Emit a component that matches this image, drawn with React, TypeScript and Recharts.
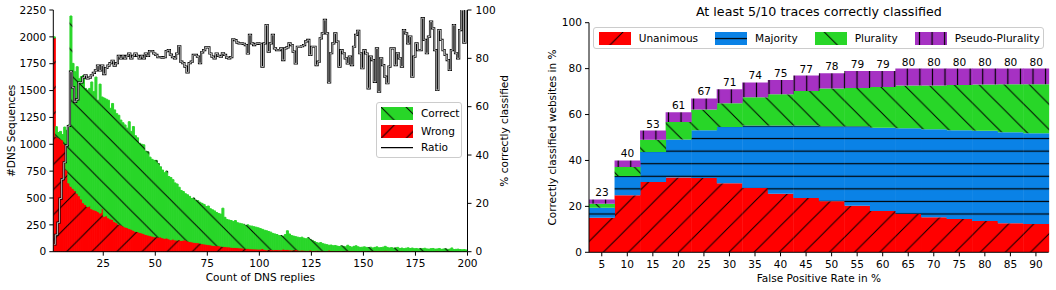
import React from "react";
import {
  ComposedChart,
  BarChart,
  Bar,
  Line,
  XAxis,
  YAxis,
  Legend,
  LabelList,
} from "recharts";

// ---- left panel: DNS reply histogram (bins 1..199) ----
const replyTotals = [
  2000, 1164, 1110, 1120, 1090, 1160, 1130, 1180, 2194, 1753,
  1675, 1722, 1610, 1630, 1640, 1520, 1505, 1520, 1580, 1490,
  1625, 1410, 1560, 1440, 1430, 1420, 1410, 1335, 1380, 1320,
  1285, 1270, 1225, 1200, 1180, 1150, 1210, 1120, 1165, 1080,
  1060, 1010, 1000, 995, 935, 930, 880, 860, 850, 850,
  820, 790, 760, 735, 750, 700, 690, 670, 640, 630,
  600, 570, 560, 540, 530, 515, 495, 500, 480, 475,
  460, 450, 440, 420, 425, 400, 390, 380, 365, 355,
  350, 405, 320, 300, 295, 290, 280, 290, 270, 265,
  260, 255, 245, 250, 240, 238, 232, 228, 222, 215,
  208, 200, 195, 188, 182, 170, 165, 160, 150, 150,
  145, 160, 195, 165, 150, 145, 140, 135, 130, 135,
  125, 120, 130, 115, 105, 95, 85, 80, 85, 75,
  70, 65, 60, 62, 55, 58, 52, 48, 55, 50,
  45, 60, 48, 42, 50, 55, 45, 40, 42, 45,
  40, 38, 42, 35, 40, 45, 36, 38, 42, 50,
  40, 35, 38, 32, 36, 40, 30, 34, 28, 32,
  36, 30, 34, 28, 30, 26, 30, 28, 32, 26,
  24, 28, 30, 24, 26, 30, 22, 25, 28, 22,
  24, 35, 20, 22, 24, 20, 18, 20, 16,
];

const replyWrong = [
  1990, 1075, 1060, 1050, 1040, 1000, 760, 640, 610, 590,
  570, 545, 520, 490, 455, 440, 420, 425, 400, 390,
  385, 375, 360, 400, 330, 335, 315, 305, 300, 280,
  270, 255, 250, 240, 230, 225, 215, 210, 200, 190,
  188, 180, 175, 168, 160, 155, 150, 145, 140, 140,
  135, 138, 130, 125, 128, 120, 112, 118, 110, 108,
  112, 105, 108, 110, 100, 95, 92, 88, 85, 84,
  80, 75, 72, 70, 66, 64, 60, 58, 55, 56,
  52, 50, 48, 46, 45, 42, 40, 40, 38, 36,
  35, 33, 30, 32, 28, 27, 26, 25, 24, 24,
  30, 22, 18, 22, 20, 18, 20, 20, 19, 18,
  25, 20, 22, 18, 16, 18, 22, 15, 14, 15,
  14, 12, 12, 16, 12, 11, 14, 13, 10, 8,
  5, 7, 16, 10, 8, 6, 7, 10, 8, 9,
  9, 12, 9, 10, 8, 6, 5, 7, 10, 8,
  7, 12, 8, 7, 11, 7, 12, 8, 9, 13,
  12, 8, 6, 5, 8, 7, 6, 8, 3, 3,
  5, 3, 9, 5, 4, 4, 5, 1, 4, 5,
  3, 1, 2, 4, 8, 2, 3, 4, 5, 5,
  6, 6, 1, 4, 5, 2, 0, 3, 0,
];

const ratioPct = [
  3, 7, 12, 22, 30, 37, 44, 52, 74.5, 68,
  62, 63, 70, 70, 72, 73, 71.7, 72, 73, 74,
  75, 77, 75, 77, 73.5, 76, 77, 78, 79, 77,
  78, 81, 80, 81, 80, 81, 82, 80, 81, 82,
  81, 80, 81, 80, 82, 81, 83, 83, 82, 81.4,
  80.5, 80.5, 80.3, 80.5, 83, 83.4, 81.5, 80.5, 80, 82,
  85, 78.6, 78, 76.6, 74.2, 78, 78.6, 81.4, 81.4, 80.7,
  78, 82.5, 83.4, 84.5, 84.5, 82, 80.7, 80, 82, 81,
  80.7, 82.1, 81.4, 80.3, 80, 80.5, 87.9, 87.5, 86.5, 86.2,
  86.2, 86, 85.5, 82, 89.7, 86.2, 85.5, 86, 86.2, 86,
  76.6, 86.2, 93.8, 82.8, 86.2, 89.7, 84.1, 83.4, 83.4, 84.1,
  79.3, 84.1, 84.5, 86.2, 85.5, 82.8, 77.9, 84.8, 84.8, 85,
  85.5, 87, 87.6, 81.4, 84.8, 84.8, 77.2, 78.6, 88.3, 90.3,
  95.9, 90.3, 70, 82.1, 86.2, 90.3, 86.9, 76.6, 83.4, 82.1,
  80, 77.9, 80.7, 77.2, 84.8, 89.7, 91.4, 82.1, 75.9, 83.4,
  82, 67.6, 80.7, 79.3, 70.3, 84.1, 66.2, 80, 77.2, 72.4,
  69.7, 76.6, 84.1, 84.1, 77.2, 82.1, 80, 76.6, 91.7, 90.3,
  86.2, 89, 72.4, 80.7, 86.2, 83.4, 83.4, 96.6, 87.6, 82.1,
  89, 95.2, 92.4, 83.4, 66.9, 91.7, 87.6, 83.4, 81.4, 79.3,
  75.2, 83.4, 93.8, 82.1, 80, 91.7, 100, 86.5, 100,
];

const countTicks = [0, 250, 500, 750, 1000, 1250, 1500, 1750, 2000, 2250];
const pctTicks = [0, 20, 40, 60, 80, 100];
const replyTicks = [25, 50, 75, 100, 125, 150, 175, 200];

// ---- right panel: classification at each false positive rate ----
const fprSteps = [5, 10, 15, 20, 25, 30, 35, 40, 45, 50, 55, 60, 65, 70, 75, 80, 85, 90];
const unanimous = [15, 24.9, 30.6, 32.6, 32.4, 30.1, 28, 25.5, 23.7, 22.2, 20.3, 18, 16.7, 15.3, 14.5, 13.6, 12.7, 12.3];
const majority = [4.4, 8.3, 13.1, 16.5, 20.8, 24.5, 27.2, 29.7, 31.5, 32.7, 34.6, 36.3, 37.3, 38.3, 38.7, 39.3, 39.6, 39.5];
const plurality = [1.7, 4, 5.3, 7.7, 9, 10.3, 12.3, 13.6, 15.1, 16.4, 16.7, 17.7, 18.6, 19, 19.7, 20.2, 20.9, 21.4];
const pseudoPlurality = [1.9, 2.8, 4, 4.2, 4.8, 6.1, 6.5, 6.2, 6.7, 6.7, 7.4, 7, 7.4, 7.4, 7.1, 6.9, 6.8, 6.8];
const websiteTicks = [0, 20, 40, 60, 80, 100];

const GREEN = "#28d628";
const RED = "#ff0000";
const BLUE = "#0a82e6";
const PURPLE = "#a631c3";
const FONT = "'DejaVu Sans', sans-serif";
const TXT = 10.55;
const DIAG = 25.13; // spacing of the diagonal hatches
const FINE = 12.57; // spacing of the straight hatches

const histRows = replyTotals.map((total, i) => ({
  bin: i + 1.5,
  wrong: replyWrong[i],
  correct: total - replyWrong[i],
  ratio: ratioPct[i],
}));

const fprRows = fprSteps.map((fpr, i) => {
  const sum = unanimous[i] + majority[i] + plurality[i] + pseudoPlurality[i];
  return {
    fpr,
    unanimous: unanimous[i],
    majority: majority[i],
    plurality: plurality[i],
    pseudo: pseudoPlurality[i],
    total: Math.round(sum),
  };
});

// fwd = "/", back = "\", horiz = "-", vert = "|"
type Kind = "fwd" | "back" | "horiz" | "vert";

const Hatch = ({ id, color, kind, phase }: { id: string; color: string; kind: Kind; phase: number }) => {
  const D = DIAG;
  if (kind === "fwd" || kind === "back") {
    const d =
      kind === "fwd"
        ? `M0,${D} L${D},0 M-1,1 L1,-1 M${D - 1},${D + 1} L${D + 1},${D - 1}`
        : `M0,0 L${D},${D} M-1,${D - 1} L1,${D + 1} M${D - 1},-1 L${D + 1},1`;
    return (
      <pattern id={id} patternUnits="userSpaceOnUse" width={D} height={D} x={phase} y={0}>
        <rect width={D} height={D} fill={color} />
        <path d={d} stroke="#000" strokeWidth={1} fill="none" />
      </pattern>
    );
  }
  const horiz = kind === "horiz";
  return (
    <pattern
      id={id}
      patternUnits="userSpaceOnUse"
      width={FINE}
      height={FINE}
      x={horiz ? 0 : phase - FINE / 2}
      y={horiz ? phase - FINE / 2 : 0}
    >
      <rect width={FINE} height={FINE} fill={color} />
      <path
        d={horiz ? `M-1,${FINE / 2} L${FINE + 1},${FINE / 2}` : `M${FINE / 2},-1 L${FINE / 2},${FINE + 1}`}
        stroke="#000"
        strokeWidth={1.2}
      />
    </pattern>
  );
};

const Swatch = ({ fill, shiftX = 0, shiftY = 0 }: { fill: string; shiftX?: number; shiftY?: number }) => (
  <svg width={32.3} height={13.3} style={{ display: "block" }}>
    <g transform={`translate(${-shiftX},${-shiftY})`}>
      <rect x={shiftX} y={shiftY} width={32.3} height={13.3} fill={fill} />
    </g>
  </svg>
);

const legendBox: React.CSSProperties = {
  boxSizing: "border-box",
  border: "1px solid #cccccc",
  borderRadius: 3,
  background: "rgba(255,255,255,0.8)",
  fontFamily: FONT,
  fontSize: TXT,
  color: "#000",
  position: "relative",
};

const histLegendItems = [
  { label: "Correct", fill: "url(#hist-correct)", shiftX: 21 },
  { label: "Wrong", fill: "url(#hist-wrong)", shiftX: 3.5 },
];

const HistLegend = () => (
  <div style={{ ...legendBox, width: 86.6, height: 56.6 }}>
    {histLegendItems.map((item, i) => (
      <div key={item.label} style={{ position: "absolute", left: 4.3, top: 4.3 + i * 18, display: "flex", alignItems: "center" }}>
        <Swatch fill={item.fill} shiftX={item.shiftX} />
        <span style={{ marginLeft: 7.7, lineHeight: "13.3px" }}>{item.label}</span>
      </div>
    ))}
    <div style={{ position: "absolute", left: 4.3, top: 38.5, display: "flex", alignItems: "center" }}>
      <svg width={32.3} height={13.3} style={{ display: "block" }}>
        <line x1={0} x2={32.3} y1={6.6} y2={6.6} stroke="#000" strokeWidth={1.3} />
      </svg>
      <span style={{ marginLeft: 7.7, lineHeight: "13.3px" }}>Ratio</span>
    </div>
  </div>
);

const fprLegendItems = [
  { label: "Unanimous", fill: "url(#fpr-unan)", shiftX: 10.03, shiftY: 0 },
  { label: "Majority", fill: "url(#fpr-maj)", shiftX: 0, shiftY: 6.27 },
  { label: "Plurality", fill: "url(#fpr-plur)", shiftX: 13.4, shiftY: 0 },
  { label: "Pseudo-Plurality", fill: "url(#fpr-pseudo)", shiftX: 5.7, shiftY: 0 },
];

const FprLegend = () => (
  <div style={{ ...legendBox, width: 451, height: 22, display: "flex", alignItems: "center", paddingLeft: 4.4 }}>
    {fprLegendItems.map((item, i) => (
      <div key={item.label} style={{ display: "flex", alignItems: "center", marginLeft: i === 0 ? 0 : 17 }}>
        <Swatch fill={item.fill} shiftX={item.shiftX} shiftY={item.shiftY} />
        <span style={{ marginLeft: 7.7 }}>{item.label}</span>
      </div>
    ))}
  </div>
);

const verticalTitle = (text: string, cx: number, fallbackCy: number) => (props: any) => {
  const vb = props && props.viewBox;
  const cy = vb && typeof vb.y === "number" ? vb.y + vb.height / 2 : fallbackCy;
  return (
    <text
      x={cx}
      y={cy}
      transform={`rotate(-90 ${cx} ${cy})`}
      textAnchor="middle"
      dominantBaseline="central"
      fontSize={TXT}
      fill="#000"
    >
      {text}
    </text>
  );
};

const horizontalTitle = (text: string, cy: number, fallbackCx: number) => (props: any) => {
  const vb = props && props.viewBox;
  const cx = vb && typeof vb.x === "number" ? vb.x + vb.width / 2 : fallbackCx;
  return (
    <text x={cx} y={cy} textAnchor="middle" dominantBaseline="central" fontSize={TXT} fill="#000">
      {text}
    </text>
  );
};

const tickStyle = { fill: "#000", fontSize: TXT, fontFamily: FONT };
const lineStyle = { stroke: "#000", strokeWidth: 1 };

export default function App() {
  return (
    <div
      style={{
        position: "absolute",
        left: 0,
        top: 0,
        width: 1056,
        height: 290,
        background: "#fff",
        fontFamily: FONT,
        overflow: "hidden",
      }}
    >
      <div style={{ position: "absolute", left: 0, top: 0 }}>
        <ComposedChart
          width={520}
          height={290}
          data={histRows}
          margin={{ top: 10, right: 0, bottom: 0, left: 0 }}
          barCategoryGap={0}
          barGap={0}
        >
          <defs>
            <Hatch id="hist-correct" color={GREEN} kind="back" phase={21} />
            <Hatch id="hist-wrong" color={RED} kind="fwd" phase={16.8} />
          </defs>
          <XAxis
            xAxisId="b"
            dataKey="bin"
            type="number"
            domain={[1, 200]}
            ticks={replyTicks}
            allowDataOverflow
            height={38.3}
            tickSize={4}
            tickMargin={4}
            tick={tickStyle}
            axisLine={lineStyle}
            tickLine={lineStyle}
            label={horizontalTitle("Count of DNS replies", 277, 260)}
          />
          <XAxis
            xAxisId="t"
            orientation="top"
            type="number"
            domain={[1, 200]}
            allowDataOverflow
            height={0}
            tick={false}
            tickLine={false}
            axisLine={lineStyle}
          />
          <YAxis
            yAxisId="count"
            domain={[0, 2250]}
            ticks={countTicks}
            allowDataOverflow
            width={53.3}
            tickSize={4}
            tickMargin={3}
            tick={tickStyle}
            axisLine={lineStyle}
            tickLine={lineStyle}
            label={verticalTitle("#DNS Sequences", 11.4, 131)}
          />
          <YAxis
            yAxisId="pct"
            orientation="right"
            domain={[0, 100]}
            ticks={pctTicks}
            allowDataOverflow
            width={52.5}
            tickSize={4}
            tickMargin={4}
            tick={tickStyle}
            axisLine={lineStyle}
            tickLine={lineStyle}
            label={verticalTitle("% correctly classified", 503.6, 131)}
          />
          {/* a thin stroke in the same fill closes the seams between the 2px bins */}
          <Bar
            xAxisId="b"
            yAxisId="count"
            dataKey="wrong"
            stackId="h"
            fill="url(#hist-wrong)"
            stroke="url(#hist-wrong)"
            strokeWidth={1}
            isAnimationActive={false}
          />
          <Bar
            xAxisId="b"
            yAxisId="count"
            dataKey="correct"
            stackId="h"
            fill="url(#hist-correct)"
            stroke="url(#hist-correct)"
            strokeWidth={1}
            isAnimationActive={false}
          />
          <Line
            xAxisId="b"
            yAxisId="pct"
            dataKey="ratio"
            type="step"
            stroke="#000"
            strokeWidth={2.2}
            dot={false}
            activeDot={false}
            isAnimationActive={false}
          />
          <Line
            xAxisId="b"
            yAxisId="pct"
            dataKey="ratio"
            type="step"
            stroke="#fff"
            strokeWidth={0.7}
            dot={false}
            activeDot={false}
            isAnimationActive={false}
          />
          <Legend
            layout="horizontal"
            verticalAlign="middle"
            align="center"
            content={() => <HistLegend />}
            wrapperStyle={{ left: 375.7, top: 101.7, width: 86.6, height: 56.6 }}
          />
        </ComposedChart>
      </div>

      <div
        style={{
          position: "absolute",
          left: 589,
          width: 459.7,
          top: 4.3,
          lineHeight: "16px",
          textAlign: "center",
          fontSize: 12.66,
          color: "#000",
        }}
      >
        At least 5/10 traces correctly classified
      </div>

      <div style={{ position: "absolute", left: 520, top: 0 }}>
        <BarChart
          width={536}
          height={290}
          data={fprRows}
          margin={{ top: 22.7, right: 7.3, bottom: 0, left: 0 }}
          barCategoryGap={0}
          barGap={0}
        >
          <defs>
            <Hatch id="fpr-unan" color={RED} kind="fwd" phase={8.9} />
            <Hatch id="fpr-maj" color={BLUE} kind="horiz" phase={0.3} />
            <Hatch id="fpr-plur" color={GREEN} kind="back" phase={22.7} />
            <Hatch id="fpr-pseudo" color={PURPLE} kind="vert" phase={10.2} />
          </defs>
          <XAxis
            dataKey="fpr"
            height={37.7}
            tickSize={4}
            tickMargin={4}
            tick={tickStyle}
            axisLine={lineStyle}
            tickLine={lineStyle}
            interval={0}
            label={horizontalTitle("False Positive Rate in %", 278, 299)}
          />
          <XAxis
            xAxisId="top"
            dataKey="fpr"
            orientation="top"
            height={0}
            tick={false}
            tickLine={false}
            axisLine={lineStyle}
          />
          <YAxis
            domain={[0, 100]}
            ticks={websiteTicks}
            allowDataOverflow
            width={69}
            tickSize={4}
            tickMargin={3}
            tick={tickStyle}
            axisLine={lineStyle}
            tickLine={lineStyle}
            label={verticalTitle("Correctly classified websites in %", 32.1, 137.5)}
          />
          <YAxis
            yAxisId="right"
            orientation="right"
            domain={[0, 100]}
            width={0}
            tick={false}
            tickLine={false}
            axisLine={lineStyle}
          />
          <Bar dataKey="unanimous" stackId="s" fill="url(#fpr-unan)" isAnimationActive={false} />
          <Bar dataKey="majority" stackId="s" fill="url(#fpr-maj)" isAnimationActive={false} />
          <Bar dataKey="plurality" stackId="s" fill="url(#fpr-plur)" isAnimationActive={false} />
          <Bar dataKey="pseudo" stackId="s" fill="url(#fpr-pseudo)" isAnimationActive={false}>
            <LabelList dataKey="total" position="top" offset={3} fill="#000" fontSize={TXT} fontFamily={FONT} />
          </Bar>
          <Legend
            layout="horizontal"
            verticalAlign="middle"
            align="center"
            content={() => <FprLegend />}
            wrapperStyle={{ left: 73.3, top: 27.3, width: 451, height: 22 }}
          />
        </BarChart>
      </div>
    </div>
  );
}
